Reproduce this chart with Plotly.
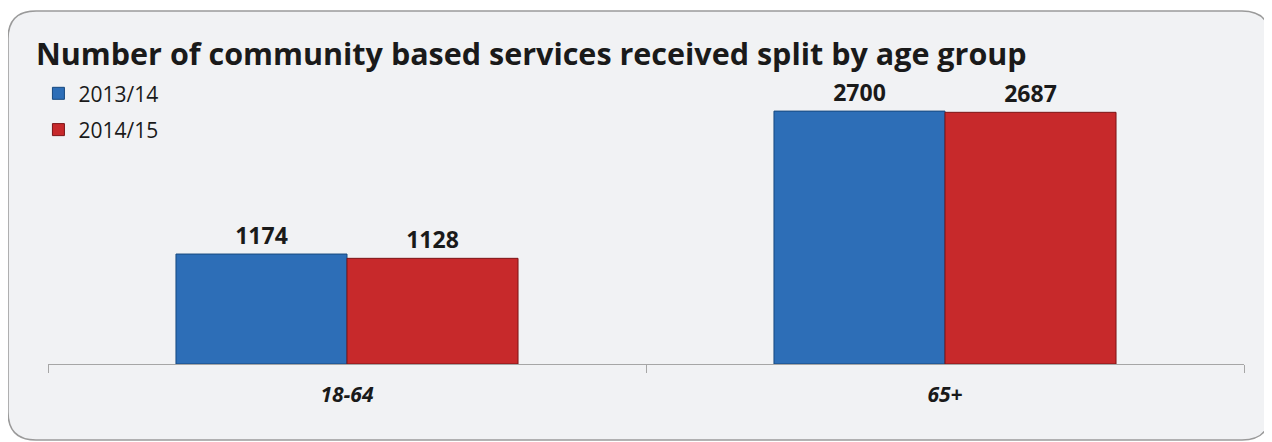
import plotly.graph_objects as go

# values
age_groups = ['18-64', '65+']
services_1314 = [1174, 2700]
services_1415 = [1128, 2687]

# the page body adds an 8px margin, so work in page pixels and shift
OFF = 8
W, H = 1272 - OFF, 442 - OFF
L, R, T, B = 48 - OFF, 1244 - OFF, 83 - OFF, 364 - OFF


def px_to_paper(px, py):
    return (px - OFF - L) / (R - L), (B - (py - OFF)) / (B - T)


def rounded_rect(x0, y0, x1, y1, r):
    # rounded box path in paper coordinates, corners given in page pixels
    def p(x, y):
        xx, yy = px_to_paper(x, y)
        return f'{xx:.5f},{yy:.5f}'
    path = f'M {p(x0 + r, y0)} L {p(x1 - r, y0)} Q {p(x1, y0)} {p(x1, y0 + r)} '
    path += f'L {p(x1, y1 - r)} Q {p(x1, y1)} {p(x1 - r, y1)} '
    path += f'L {p(x0 + r, y1)} Q {p(x0, y1)} {p(x0, y1 - r)} '
    path += f'L {p(x0, y0 + r)} Q {p(x0, y0)} {p(x0 + r, y0)} Z'
    return path


fig = go.Figure()
fig.add_trace(go.Bar(
    x=age_groups, y=services_1314, name='2013/14',
    marker=dict(color='#2d6eb7', line=dict(color='#17497f', width=1)),
    text=services_1314, texttemplate='<b>%{text}</b>', textposition='outside',
    textfont=dict(family='Open Sans', size=23, color='#1a1a1a'),
    legendgroup='a',
))
fig.add_trace(go.Bar(
    x=age_groups, y=services_1415, name='2014/15',
    marker=dict(color='#c7292b', line=dict(color='#7c1416', width=1)),
    text=services_1415, texttemplate='<b>%{text}</b>', textposition='outside',
    textfont=dict(family='Open Sans', size=23, color='#1a1a1a'),
    legendgroup='b',
))

fig.update_traces(cliponaxis=False)

fig.add_shape(
    type='path', xref='paper', yref='paper', layer='below',
    path=rounded_rect(8, 11, 1270, 440, 28),
    fillcolor='#f1f2f4', line=dict(color='#9a9a9a', width=1.5),
)

fig.update_layout(
    width=W, height=H,
    paper_bgcolor='white', plot_bgcolor='rgba(0,0,0,0)',
    margin=dict(l=L, r=W - R, t=T, b=H - B),
    font=dict(family='Open Sans', color='#1a1a1a'),
    title=dict(
        text='<b>Number of community based services received split by age group</b>',
        x=(36 - OFF) / W, xanchor='left', y=1 - (54 - OFF) / H, yanchor='middle',
        font=dict(family='Open Sans', size=30.5, color='#1a1a1a'),
    ),
    barmode='group', bargap=0.428, bargroupgap=0,
    showlegend=True,
    legend=dict(
        x=-0.008, xanchor='left', y=1.035, yanchor='top',
        font=dict(family='Open Sans', size=21, color='#1a1a1a'),
        tracegroupgap=6, bgcolor='rgba(0,0,0,0)',
    ),
    xaxis=dict(
        showline=True, linecolor='#a6a6a6', linewidth=1,
        ticks='outside', tickson='boundaries', ticklen=8, tickcolor='#a6a6a6',
        tickfont=dict(family='Open Sans', size=21, color='#1a1a1a'),
        ticklabelstandoff=12,
        tickvals=age_groups,
        ticktext=[f'<b><i>{g}</i></b>' for g in age_groups],
    ),
    yaxis=dict(
        range=[0, 3000], visible=False, showgrid=False, zeroline=False,
    ),
)

fig.write_html('out.html')
